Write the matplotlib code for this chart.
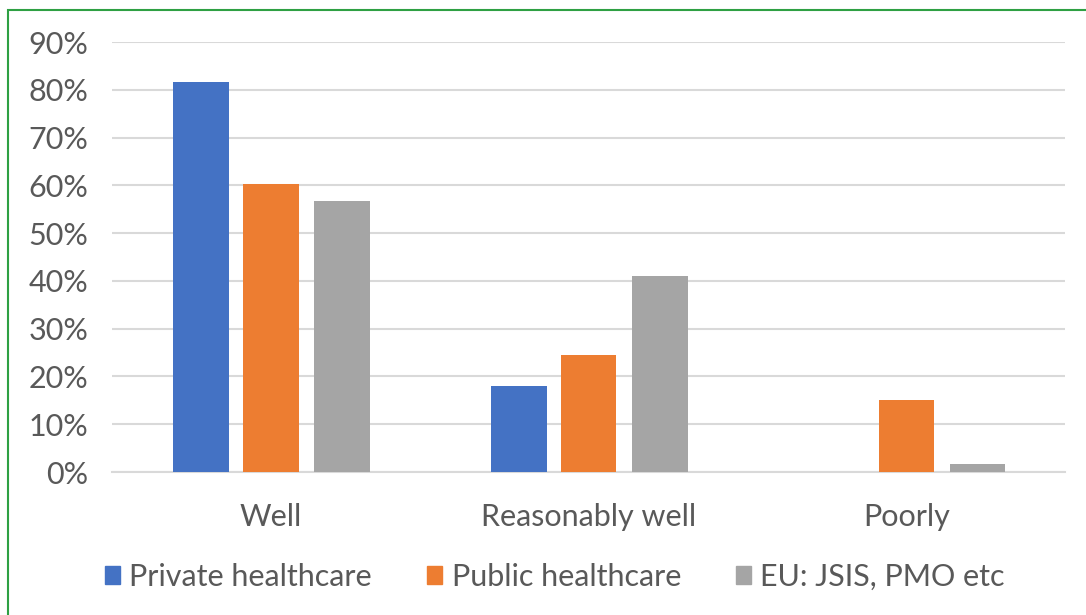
import numpy as np
import matplotlib.pyplot as plt
from matplotlib.patches import Rectangle

categories = ['Well', 'Reasonably well', 'Poorly']
series_names = ['Private healthcare', 'Public healthcare', 'EU: JSIS, PMO etc']
private_vals = [0.816, 0.180, 0.0]
public_vals = [0.603, 0.245, 0.151]
eu_vals = [0.567, 0.410, 0.017]
yticks = [0, 0.1, 0.2, 0.3, 0.4, 0.5, 0.6, 0.7, 0.8, 0.9]

colors = ['#4472C4', '#ED7D31', '#A5A5A5']
text_col = '#595959'
plt.rcParams['font.family'] = ['Lato', 'DejaVu Sans']

fig = plt.figure(figsize=(10.86, 6.15), dpi=100)
ax = fig.add_axes([0.103, 0.2325, 0.878, 0.6992])

x = np.arange(len(categories))
offsets = [-0.219, 0.0, 0.224]
width = 0.175
for vals, off, c, name in zip([private_vals, public_vals, eu_vals], offsets, colors, series_names):
    ax.bar(x + off, vals, width, color=c, label=name, zorder=3)

ax.set_xlim(-0.5, 2.5)
ax.set_ylim(0, 0.9)
ax.set_yticks(yticks)
ax.set_yticklabels([f"{int(round(t*100))}%" for t in yticks])
ax.set_xticks(x)
ax.set_xticklabels(categories)
ax.tick_params(axis='both', length=0, labelsize=22, colors=text_col)
ax.tick_params(axis='x', pad=22)
ax.tick_params(axis='y', pad=17)
for lbl in ax.get_yticklabels():
    lbl.set_horizontalalignment('right')

ax.grid(axis='y', color='#D9D9D9', linewidth=1.5, zorder=0)
for s in ['top', 'right', 'left']:
    ax.spines[s].set_visible(False)
ax.spines['bottom'].set_color('#D9D9D9')
ax.spines['bottom'].set_linewidth(1.5)

handles = [Rectangle((0, 0), 1, 1, color=c) for c in colors]
fig.legend(handles, series_names, loc='center', bbox_to_anchor=(0.511, 0.062), ncol=3,
           frameon=False, fontsize=22, labelcolor=text_col, handlelength=0.5,
           handleheight=0.5, handletextpad=0.3, columnspacing=1.8)

# green outer border
fig.patches.append(Rectangle((8/1086, -0.05), 1.2, 1 - 10/615 + 0.05, transform=fig.transFigure,
                             fill=False, edgecolor='#2EA043', linewidth=1.5))

fig.savefig('out.png', dpi=100)
